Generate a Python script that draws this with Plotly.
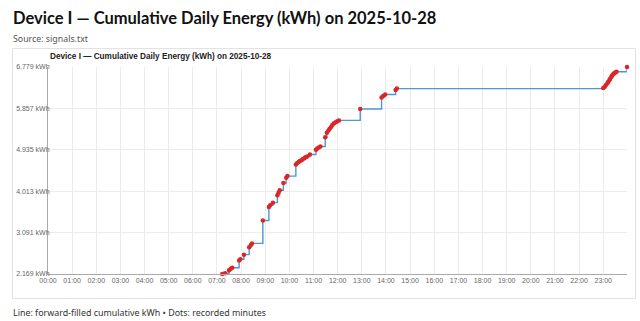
import plotly.graph_objects as go

# ---- data ----
day = "2025-10-28"
times = ["07:13", "07:20", "07:30", "07:34", "07:38", "07:55", "07:58", "08:07",
         "08:20", "08:24", "08:27", "08:54", "09:09", "09:12", "09:19", "09:30",
         "09:33", "09:36", "09:45", "09:52", "09:55", "10:16", "10:19", "10:23",
         "10:26", "10:30", "10:33", "10:37", "10:40", "10:44", "10:51", "11:06",
         "11:09", "11:13", "11:17", "11:29", "11:33", "11:37", "11:40", "11:44",
         "11:47", "11:51", "11:55", "11:59", "12:03", "12:56", "13:49", "13:53",
         "13:58", "14:24", "14:27", "23:00", "23:04", "23:06", "23:10", "23:12",
         "23:15", "23:17", "23:20", "23:22", "23:25", "23:27", "23:30", "23:33",
         "23:59"]
kwh = [2.169, 2.187, 2.253, 2.286, 2.308, 2.468, 2.497, 2.600,
       2.762, 2.817, 2.851, 3.360, 3.663, 3.698, 3.758, 3.924,
       3.979, 4.034, 4.196, 4.315, 4.349, 4.605, 4.636, 4.661,
       4.683, 4.705, 4.727, 4.747, 4.769, 4.787, 4.831, 4.937,
       4.964, 4.986, 5.008, 5.214, 5.313, 5.367, 5.406, 5.451,
       5.491, 5.528, 5.550, 5.572, 5.590, 5.845, 6.097, 6.132,
       6.165, 6.265, 6.298, 6.310, 6.340, 6.373, 6.409, 6.446,
       6.484, 6.519, 6.557, 6.590, 6.619, 6.641, 6.657, 6.672,
       6.779]
y_ticks = [2.169, 3.091, 4.013, 4.935, 5.857, 6.779]
y_tick_labels = [f"{v:.3f} kWh" for v in y_ticks]
page_title = "Device I — Cumulative Daily Energy (kWh) on 2025-10-28"
source_text = "Source: signals.txt"
caption_text = "Line: forward-filled cumulative kWh • Dots: recorded minutes"

x = [f"{day} {t}" for t in times]

W, H = 640, 321
ML, MR, MT, MB = 48, 13, 67, 47
PW, PH = W - ML - MR, H - MT - MB


def xp(px):
    return (px - ML) / PW


def yp(py):
    return (H - MB - py) / PH


fig = go.Figure()
fig.add_trace(go.Scatter(
    x=x, y=kwh, mode="lines", line=dict(shape="hv", color="#4e97d1", width=1.4),
    hoverinfo="skip", showlegend=False, cliponaxis=False))
fig.add_trace(go.Scatter(
    x=x, y=kwh, mode="markers", marker=dict(color="#dc2626", size=4.5),
    showlegend=False, cliponaxis=False))

tick_font = dict(family="Liberation Sans, Arial, sans-serif", size=7, color="#666")

fig.update_layout(
    width=W, height=H, autosize=False,
    margin=dict(l=ML, r=MR, t=MT, b=MB, pad=0),
    paper_bgcolor="white", plot_bgcolor="white",
    xaxis=dict(
        type="date", range=[f"{day} 00:00", f"{day} 23:59"],
        tickformat="%H:%M", dtick=3600000, tick0=f"{day} 00:00",
        showgrid=True, gridcolor="#ececec", gridwidth=1,
        showline=True, linecolor="#aaaaaa", linewidth=1,
        ticks="", tickfont=tick_font, zeroline=False, fixedrange=True),
    yaxis=dict(
        range=[y_ticks[0], y_ticks[-1]], tickvals=y_ticks, ticktext=y_tick_labels,
        showgrid=True, gridcolor="#ececec", gridwidth=1,
        showline=True, linecolor="#aaaaaa", linewidth=1,
        ticks="", tickfont=tick_font, zeroline=False, fixedrange=True,
        ticklabelstandoff=-4),
    shapes=[dict(type="rect", xref="paper", yref="paper",
                 x0=xp(12.5), x1=xp(635.5), y0=yp(298.5), y1=yp(48.5),
                 line=dict(color="#e2e2e2", width=1), layer="below")],
    annotations=[
        dict(text=f"<b>{page_title}</b>", xref="paper", yref="paper",
             x=xp(11), y=yp(18), xanchor="left", yanchor="middle", showarrow=False,
             font=dict(family="Lato, sans-serif", size=16.5, color="#111")),
        dict(text=source_text, xref="paper", yref="paper",
             x=xp(11), y=yp(38.5), xanchor="left", yanchor="middle", showarrow=False,
             font=dict(family="Noto Sans, sans-serif", size=8.8, color="#555")),
        dict(text=f"<b>{page_title}</b>", xref="paper", yref="paper",
             x=xp(48), y=yp(56.5), xanchor="left", yanchor="middle", showarrow=False,
             font=dict(family="Liberation Sans, Arial, sans-serif", size=8.2, color="#222")),
        dict(text=caption_text, xref="paper", yref="paper",
             x=xp(11), y=yp(312), xanchor="left", yanchor="middle", showarrow=False,
             font=dict(family="Noto Sans, sans-serif", size=8.9, color="#333")),
    ],
)

fig.write_html("out.html", config={"displayModeBar": False})
